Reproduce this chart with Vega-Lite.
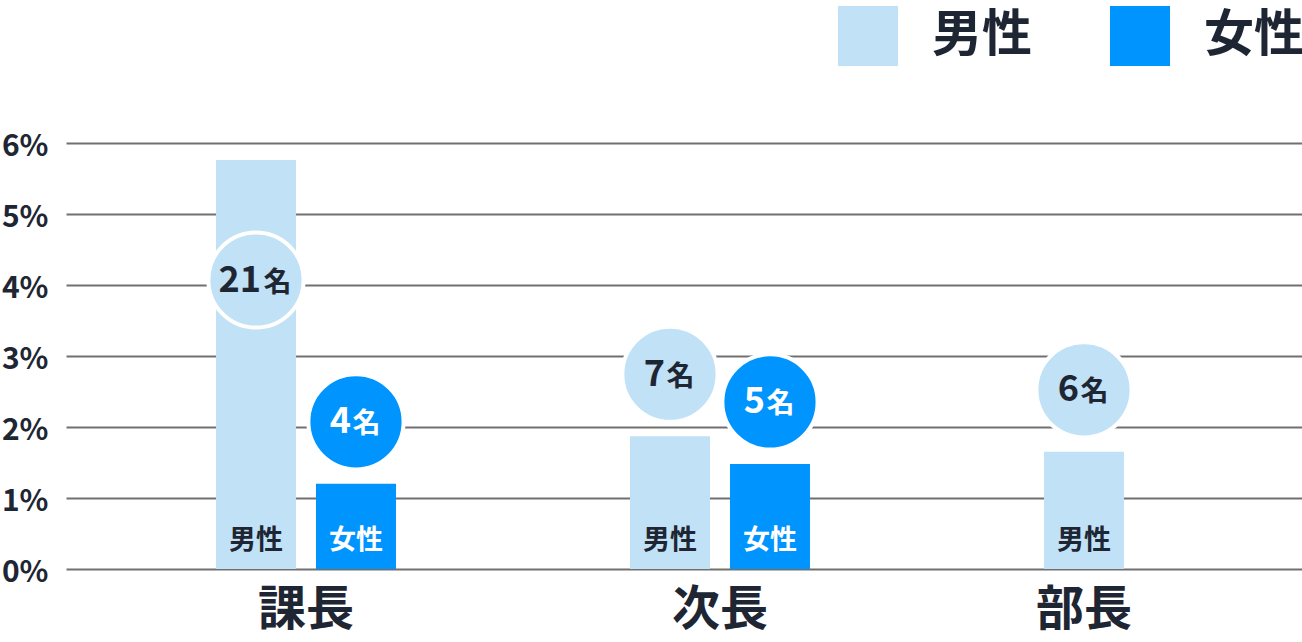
{
  "$schema": "https://vega.github.io/schema/vega-lite/v6.json",
  "width": 1236,
  "height": 426,
  "autosize": "none",
  "padding": {"left": 66, "top": 143, "right": 0, "bottom": 73},
  "background": "white",
  "config": {
    "font": "Noto Sans CJK JP",
    "view": {"stroke": null}
  },
  "data": {
    "values": [
      {"role": "課長", "sex": "男性", "pct": 5.76, "count": 21},
      {"role": "課長", "sex": "女性", "pct": 1.2, "count": 4},
      {"role": "次長", "sex": "男性", "pct": 1.87, "count": 7},
      {"role": "次長", "sex": "女性", "pct": 1.48, "count": 5},
      {"role": "部長", "sex": "男性", "pct": 1.65, "count": 6}
    ]
  },
  "encoding": {
    "x": {
      "field": "role",
      "type": "nominal",
      "sort": ["課長", "次長", "部長"],
      "title": null,
      "scale": {"paddingInner": 0.5169, "paddingOuter": 0.2512, "align": 0.673},
      "axis": {
        "domain": false,
        "ticks": false,
        "grid": false,
        "labelAngle": 0,
        "labelPadding": 17,
        "labelFontSize": 48,
        "labelFontWeight": "bold",
        "labelColor": "#1f2633",
        "labelOffset": {"condition": {"test": "datum.value === '部長'", "value": -50}, "value": 0}
      }
    },
    "xOffset": {
      "field": "sex",
      "type": "nominal",
      "scale": {"domain": ["男性", "女性"], "paddingInner": 0.2, "paddingOuter": 0.1}
    }
  },
  "layer": [
    {
      "mark": {"type": "bar"},
      "encoding": {
        "y": {
          "field": "pct",
          "type": "quantitative",
          "title": null,
          "scale": {"domain": [0, 6], "nice": false},
          "axis": {
            "values": [0, 1, 2, 3, 4, 5, 6],
            "labelExpr": "datum.value + '%'",
            "domain": false,
            "ticks": false,
            "labelPadding": 18,
            "labelFontSize": 30,
            "labelFontWeight": "bold",
            "labelColor": "#1f2633",
            "labelOffset": 3,
            "gridColor": "#707070",
            "gridWidth": 2,
            "gridOpacity": 1
          }
        },
        "color": {
          "field": "sex",
          "type": "nominal",
          "scale": {"domain": ["男性", "女性"], "range": ["#c0e1f6", "#0094ff"]},
          "legend": {
            "orient": "none",
            "legendX": 772,
            "legendY": -137,
            "direction": "horizontal",
            "title": null,
            "symbolType": "square",
            "symbolSize": 3600,
            "symbolStrokeWidth": 0,
            "symbolOpacity": 1,
            "labelFontSize": 50,
            "labelFontWeight": "bold",
            "labelColor": "#1f2633",
            "labelOffset": 34,
            "labelLimit": 300,
            "columnPadding": 78,
            "padding": 0
          }
        }
      }
    },
    {
      "mark": {"type": "text", "fontSize": 27, "fontWeight": "bold", "baseline": "alphabetic", "dy": -20},
      "encoding": {
        "y": {"datum": 0, "type": "quantitative", "scale": {"domain": [0, 6], "nice": false}, "axis": null},
        "text": {"field": "sex"},
        "color": {"condition": {"test": "datum.sex === '女性'", "value": "white"}, "value": "#1f2633"}
      }
    },
    {
      "transform": [{"filter": "datum.pct < 4"}],
      "encoding": {
        "y": {"field": "pct", "type": "quantitative", "scale": {"domain": [-0.873, 5.127], "nice": false, "zero": false}, "axis": null}
      },
      "layer": [
        {
          "mark": {"type": "point", "shape": "circle", "filled": true, "size": 9060, "stroke": "white", "strokeWidth": 4, "opacity": 1},
          "encoding": {
            "fill": {"condition": {"test": "datum.sex === '女性'", "value": "#0094ff"}, "value": "#c0e1f6"}
          }
        },
        {
          "mark": {"type": "text", "fontSize": 36, "fontWeight": "bold", "align": "right", "baseline": "alphabetic", "dx": -5, "dy": 11.5},
          "encoding": {
            "text": {"field": "count"},
            "color": {"condition": {"test": "datum.sex === '女性'", "value": "white"}, "value": "#1f2633"}
          }
        },
        {
          "mark": {"type": "text", "fontSize": 28, "fontWeight": "bold", "align": "left", "baseline": "alphabetic", "dx": -3.5, "dy": 11.5, "text": "名"},
          "encoding": {
            "color": {"condition": {"test": "datum.sex === '女性'", "value": "white"}, "value": "#1f2633"}
          }
        }
      ]
    },
    {
      "transform": [{"filter": "datum.pct >= 4"}],
      "encoding": {
        "y": {"field": "pct", "type": "quantitative", "scale": {"domain": [1.69, 7.69], "nice": false, "zero": false}, "axis": null}
      },
      "layer": [
        {
          "mark": {"type": "point", "shape": "circle", "filled": true, "size": 9060, "stroke": "white", "strokeWidth": 4, "opacity": 1},
          "encoding": {
            "fill": {"condition": {"test": "datum.sex === '女性'", "value": "#0094ff"}, "value": "#c0e1f6"}
          }
        },
        {
          "mark": {"type": "text", "fontSize": 36, "fontWeight": "bold", "align": "right", "baseline": "alphabetic", "dx": 5, "dy": 11.5},
          "encoding": {
            "text": {"field": "count"},
            "color": {"condition": {"test": "datum.sex === '女性'", "value": "white"}, "value": "#1f2633"}
          }
        },
        {
          "mark": {"type": "text", "fontSize": 28, "fontWeight": "bold", "align": "left", "baseline": "alphabetic", "dx": 7.5, "dy": 11.5, "text": "名"},
          "encoding": {
            "color": {"condition": {"test": "datum.sex === '女性'", "value": "white"}, "value": "#1f2633"}
          }
        }
      ]
    }
  ],
  "resolve": {"scale": {"y": "independent"}}
}
